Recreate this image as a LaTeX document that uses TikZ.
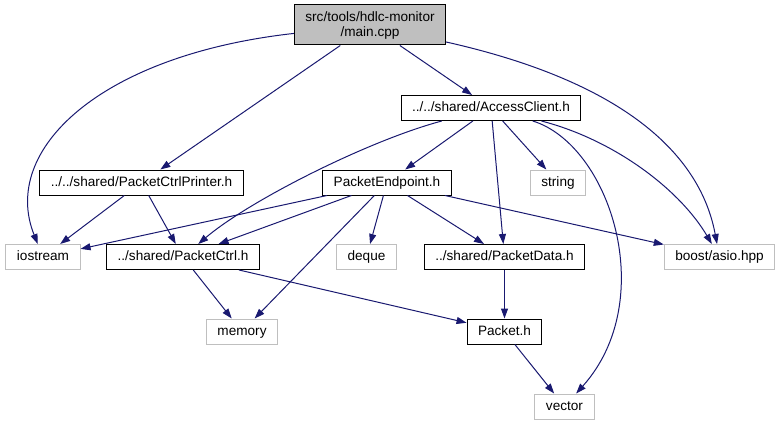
\documentclass[tikz,border=0pt]{standalone}
\usepackage{fontspec}
\setmainfont{Liberation Sans}
\usetikzlibrary{arrows.meta}
\definecolor{EdgeBlue}{HTML}{191970}
\definecolor{SysGray}{HTML}{BFBFBF}

\begin{document}
\begin{tikzpicture}[
    x=1pt,
    y=-1pt,
    font=\fontsize{13.6}{15}\selectfont,
    >={Triangle[length=10pt,width=7pt]},
    hdr/.style={
        draw=black,
        fill=white,
        line width=1pt,
        inner xsep=11pt,
        inner ysep=0pt,
        minimum height=25pt,
        text height=10pt,
        text depth=3pt
    },
    sys/.style={
        hdr,
        draw=SysGray
    },
    root/.style={
        draw=black,
        fill=SysGray,
        line width=1pt,
        align=center,
        inner xsep=11pt,
        minimum height=40pt
    },
    dep/.style={
        ->,
        line width=1pt,
        draw=EdgeBlue
    }
]
\useasboundingbox (0,0) rectangle (781,425);

% =========================
% Row 0/1: source file and direct includes
% =========================
\node[root] (main)   at (370,25)    {src/tools/hdlc-monitor\\/main.cpp};
\node[hdr]  (access) at (491,108)   {../../shared/AccessClient.h};

% =========================
% Row 2
% =========================
\node[hdr] (printer)  at (141.5,182.5) {../../shared/PacketCtrlPrinter.h};
\node[hdr] (endpoint) at (387,182.5)   {PacketEndpoint.h};
\node[sys] (str)      at (558,182.5)   {string};

% =========================
% Row 3
% =========================
\node[sys] (iostream) at (43,257)    {iostream};
\node[hdr] (ctrl)     at (183,257)   {../shared/PacketCtrl.h};
\node[sys] (deque)    at (366.5,257) {deque};
\node[hdr] (data)     at (504.5,257) {../shared/PacketData.h};
\node[sys] (asio)     at (719.5,257) {boost/asio.hpp};

% =========================
% Row 4/5
% =========================
\node[sys] (memory) at (242,331.5)   {memory};
\node[hdr] (packet) at (504.5,331.5) {Packet.h};
\node[sys] (vector) at (564.5,406.5) {vector};

% main.cpp
\draw[dep] (main) .. controls (100,55) and (0,150) .. (iostream);
\draw[dep] (main) -- (printer);
\draw[dep] (main) -- (access);
\draw[dep] (main) .. controls (660,90) and (705,180) .. (asio);

% AccessClient.h
\draw[dep] (access) .. controls (370,140) and (250,200) .. (ctrl);
\draw[dep] (access) -- (endpoint);
\draw[dep] (access) -- (data);
\draw[dep] (access) -- (str);
\draw[dep] (access) .. controls (610,145) and (660,300) .. (vector);
\draw[dep] (access) .. controls (615,140) and (680,190) .. (asio);

% PacketCtrlPrinter.h
\draw[dep] (printer) -- (iostream);
\draw[dep] (printer) -- (ctrl);

% PacketEndpoint.h
\draw[dep] (endpoint) -- (iostream);
\draw[dep] (endpoint) -- (ctrl);
\draw[dep] (endpoint) -- (memory);
\draw[dep] (endpoint) -- (deque);
\draw[dep] (endpoint) -- (data);
\draw[dep] (endpoint) -- (asio);

% lower rows
\draw[dep] (ctrl) -- (memory);
\draw[dep] (ctrl) -- (packet);
\draw[dep] (data) -- (packet);
\draw[dep] (packet) -- (vector);

\end{tikzpicture}
\end{document}
